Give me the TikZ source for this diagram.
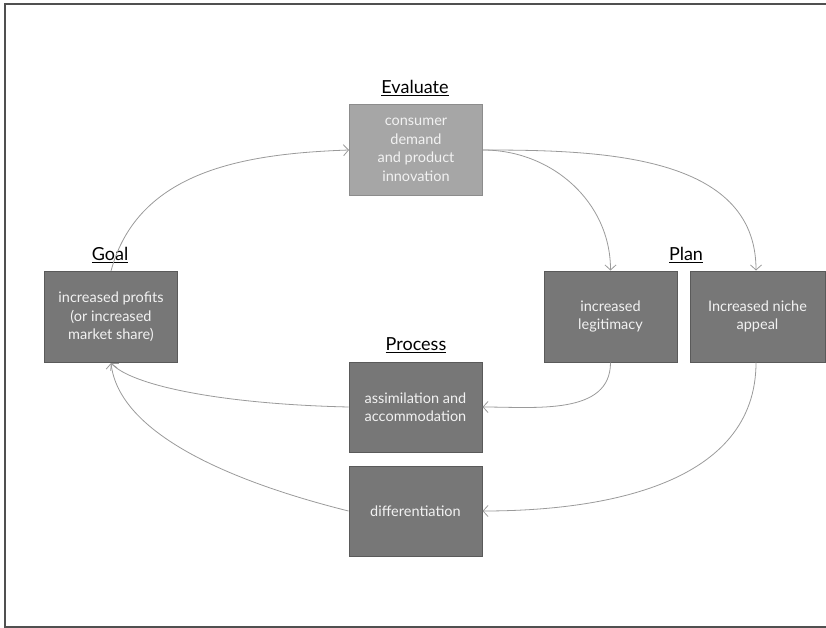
\documentclass[tikz,border=0pt]{standalone}
\usepackage{fontspec}
\setmainfont{Lato}
\usetikzlibrary{arrows.meta}
\definecolor{boxfill}{HTML}{777777}
\definecolor{boxline}{HTML}{5A5A5A}
\definecolor{evalfill}{HTML}{A6A6A6}
\definecolor{evalline}{HTML}{8C8C8C}
\definecolor{connc}{HTML}{9A9A9A}
\definecolor{framec}{HTML}{505050}
\definecolor{boxtext}{HTML}{F2F2F2}
\begin{document}
\begin{tikzpicture}[x=1pt,y=-1pt,
  box/.style={draw=boxline, fill=boxfill, line width=1pt, text=boxtext,
    font=\fontsize{14.5}{18.5}\selectfont, align=center,
    minimum width=133pt, minimum height=91pt, inner sep=0pt},
  evalbox/.style={box, draw=evalline, fill=evalfill},
  phase/.style={font=\fontsize{18}{22}\selectfont, text=black, inner sep=0pt},
  conn/.style={draw=connc, line width=0.8pt, -{Straight Barb[length=5pt,width=11pt]}}]
\useasboundingbox (0,0) rectangle (826,628);
\draw[framec, line width=1.3pt] (840,4) -- (5,4) -- (5,627) -- (840,627);

\node[evalbox] (eval) at (416,150) {consumer\\demand\\and product\\innovation};
\node[box] (goal) at (111,317) {increased profits\\(or increased\\market share)};
\node[box] (legit) at (610.5,316.5) {increased\\legitimacy};
\node[box, minimum width=135pt] (niche) at (757.5,316.5) {Increased niche\\appeal};
\node[box, minimum height=90pt] (assim) at (415.5,407) {assimilation and\\accommodation};
\node[box, minimum height=90pt] (diff) at (415.5,511) {differentiation};

\node[phase] (levaluate) at (415,88) {\underline{Evaluate}};
\node[phase] (lgoal) at (110,255) {\underline{Goal}};
\node[phase] (lplan) at (686,255) {\underline{Plan}};
\node[phase] (lprocess) at (416,345) {\underline{Process}};

\draw[conn] (goal.north) to[out=75,in=182] (eval.west);
\draw[conn] (eval.east) to[out=0,in=90] (legit.north);
\draw[conn] (eval.east) to[out=0,in=90] ([xshift=-1.5pt]niche.north);
\draw[conn] (legit.south) to[out=-90,in=0] (assim.east);
\draw[conn] ([xshift=-1.5pt]niche.south) to[out=-90,in=0] (diff.east);
\draw[conn] (assim.west) .. controls +(-130,-3) and +(20,22) .. (goal.south);
\draw[conn] (diff.west) .. controls +(-120,-30) and +(8,70) .. (goal.south);
\end{tikzpicture}
\end{document}
